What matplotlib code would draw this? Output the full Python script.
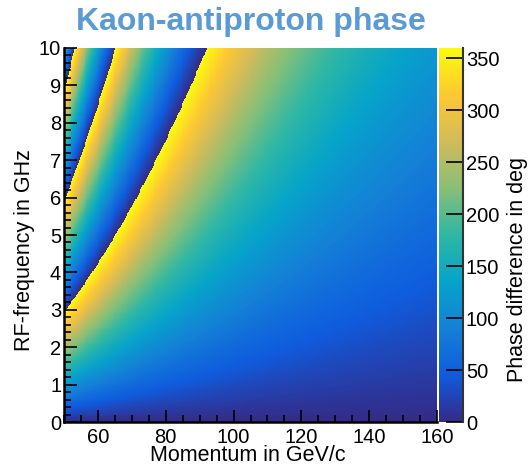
import matplotlib
matplotlib.use('Agg')
import matplotlib.pyplot as plt
import numpy as np
from matplotlib.colors import LinearSegmentedColormap
from matplotlib.ticker import MultipleLocator

plt.rcParams['font.family'] = ['Liberation Sans', 'DejaVu Sans']

# axis ranges
p_range = [50, 160]      # momentum, GeV/c
f_range = [0, 10]        # RF frequency, GHz
n_bins = 400

# physics constants: kaon and antiproton masses (GeV), flight path (m)
m_kaon = 0.493677
m_pbar = 0.938272
path_len = 800.0
c_light = 0.299792458    # m/ns

x_ticks = [60, 80, 100, 120, 140, 160]
y_ticks = [0, 1, 2, 3, 4, 5, 6, 7, 8, 9, 10]
z_ticks = [0, 50, 100, 150, 200, 250, 300, 350]

# ROOT kBird palette
bird_stops = [0.0, 0.125, 0.25, 0.375, 0.5, 0.625, 0.75, 0.875, 1.0]
bird_r = [0.2082, 0.0592, 0.0780, 0.0232, 0.1802, 0.5301, 0.8186, 0.9956, 0.9764]
bird_g = [0.1664, 0.3599, 0.5041, 0.6419, 0.7178, 0.7492, 0.7328, 0.7862, 0.9832]
bird_b = [0.5293, 0.8684, 0.8385, 0.7914, 0.6425, 0.4662, 0.3499, 0.1968, 0.0539]
bird = LinearSegmentedColormap.from_list(
    'bird', list(zip(bird_stops, zip(bird_r, bird_g, bird_b))))

p_edges = np.linspace(p_range[0], p_range[1], n_bins + 1)
f_edges = np.linspace(f_range[0], f_range[1], n_bins + 1)
p_c = 0.5 * (p_edges[1:] + p_edges[:-1])
f_c = 0.5 * (f_edges[1:] + f_edges[:-1])
P, F = np.meshgrid(p_c, f_c)

# time difference (ns) between antiproton and kaon over the flight path
dt = path_len / c_light * (np.sqrt(1 + (m_pbar / P) ** 2) - np.sqrt(1 + (m_kaon / P) ** 2))
phase = np.mod(360.0 * F * dt, 360.0)

fig = plt.figure(figsize=(5.3, 4.66), dpi=100)
ax = fig.add_axes([0.1208, 0.0944, 0.7038, 0.8026])
cax = fig.add_axes([0.8283, 0.0944, 0.0453, 0.8026])

mesh = ax.pcolormesh(p_edges, f_edges, phase, cmap=bird, vmin=0, vmax=360,
                     shading='flat', rasterized=True)
ax.set_xlim(p_range)
ax.set_ylim(f_range)

for s in ['top', 'right']:
    ax.spines[s].set_visible(False)
for s in ['left', 'bottom']:
    ax.spines[s].set_linewidth(1.8)
ax.set_xticks(x_ticks)
ax.set_yticks(y_ticks)
ax.xaxis.set_minor_locator(MultipleLocator(5))
ax.yaxis.set_minor_locator(MultipleLocator(0.2))
ax.tick_params(which='both', direction='in', top=False, right=False,
               labelsize=14.5, width=1.2)
ax.tick_params(which='major', length=9)
ax.tick_params(which='minor', length=5)
ax.tick_params(axis='x', pad=4)
ax.tick_params(axis='y', pad=2)

cb = fig.colorbar(mesh, cax=cax)
cb.outline.set_visible(False)
cax.set_yticks(z_ticks)
cax.yaxis.set_ticks_position('right')
cax.tick_params(direction='in', length=12, width=1.2, labelsize=14.5, pad=2)
cax.plot([1, 1], [0, 360], color='#333333', lw=1.5, clip_on=False,
         transform=cax.get_yaxis_transform())

fig.text(0.468, 0.0215, 'Momentum in GeV/c', ha='center', va='center', fontsize=15.5)
fig.text(0.0453, 0.4635, 'RF-frequency in GHz', ha='center', va='center',
         rotation=90, fontsize=15.5)
fig.text(0.977, 0.4227, 'Phase difference in deg', ha='center', va='center',
         rotation=90, fontsize=15.5)

fig.text(0.473, 0.952, 'Kaon-antiproton phase', ha='center', va='center',
         fontsize=23, fontweight='bold', color='#5b9bd5')

fig.savefig('out.png', dpi=100)
